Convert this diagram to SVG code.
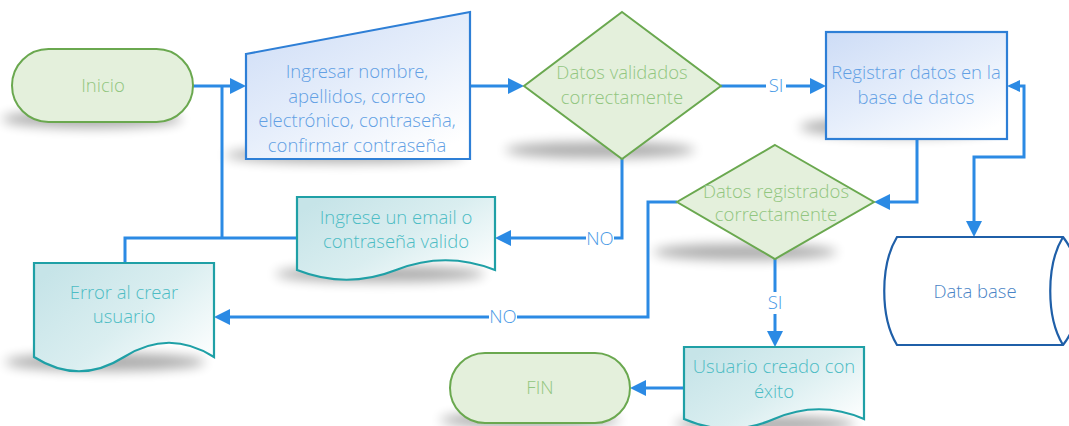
<svg xmlns="http://www.w3.org/2000/svg" width="1069" height="426" viewBox="0 0 1069 426">
  <defs>
    <linearGradient id="gBlue" x1="0" y1="0" x2="0.8" y2="1">
      <stop offset="0" stop-color="#cddcf6"/>
      <stop offset="0.55" stop-color="#e6eefb"/>
      <stop offset="1" stop-color="#ffffff"/>
    </linearGradient>
    <linearGradient id="gTeal" x1="0" y1="0.2" x2="1" y2="0.9">
      <stop offset="0" stop-color="#c6e4e8"/>
      <stop offset="0.5" stop-color="#daeef0"/>
      <stop offset="1" stop-color="#ffffff"/>
    </linearGradient>
    <filter id="soft" x="-30%" y="-200%" width="160%" height="500%">
      <feGaussianBlur stdDeviation="6"/>
    </filter>
    <marker id="arrow" markerUnits="userSpaceOnUse" markerWidth="17" markerHeight="17" refX="0" refY="8" orient="auto">
      <path d="M0,0 L16,8 L0,16 Z" fill="#2b8ae4"/>
    </marker>
    <marker id="arrowSm" markerUnits="userSpaceOnUse" markerWidth="14" markerHeight="13" refX="0" refY="6" orient="auto-start-reverse">
      <path d="M0,0 L13,6 L0,12 Z" fill="#2b8ae4"/>
    </marker>
    <style>
      .shadow { fill: #000; opacity: 0.32; filter: url(#soft); }
      .term, .dec { fill: #e4f0dc; stroke: #6aa84f; stroke-width: 2; }
      .proc { fill: url(#gBlue); stroke: #2e7fd6; stroke-width: 2.2; }
      .doc { fill: url(#gTeal); stroke: #1fa0a6; stroke-width: 2.2; }
      .store { fill: #ffffff; stroke: #1f5fa8; stroke-width: 2.2; }
      text { font-family: "Open Sans Light", "Lato Light", "Open Sans", "Liberation Sans", sans-serif; font-weight: 300; font-size: 18.5px; text-anchor: middle; }
      .tGreen { fill: #92c680; }
      .tBlue { fill: #62a0e4; }
      .tTeal { fill: #4dbcc4; }
      .tStore { fill: #4a84c6; }
      .lbl { fill: #4a9ae6; }
      .conn { fill: none; stroke: #2b8ae4; stroke-width: 3; }
      .lblBg { fill: #ffffff; }
    </style>
  </defs>

  <rect width="1069" height="426" fill="#ffffff"/>

  <!-- soft floor shadows under the shapes -->
  <g id="shadows">
    <ellipse class="shadow" cx="92" cy="119" rx="90" ry="9"/>
    <ellipse class="shadow" cx="345" cy="155" rx="120" ry="8"/>
    <ellipse class="shadow" cx="600" cy="150" rx="95" ry="8"/>
    <ellipse class="shadow" cx="900" cy="127" rx="100" ry="10"/>
    <ellipse class="shadow" cx="745" cy="252" rx="92" ry="8"/>
    <ellipse class="shadow" cx="380" cy="274" rx="105" ry="8"/>
    <ellipse class="shadow" cx="105" cy="362" rx="100" ry="9"/>
    <ellipse class="shadow" cx="530" cy="420" rx="90" ry="8"/>
    <ellipse class="shadow" cx="765" cy="424" rx="90" ry="8"/>
  </g>

  <!-- connectors -->
  <g id="connectors">
    <path class="conn" d="M193,86 H230" marker-end="url(#arrow)"/>
    <path class="conn" d="M222,86 V238"/>
    <path class="conn" d="M297,238 H125 V263"/>
    <path class="conn" d="M470,86 H508" marker-end="url(#arrow)"/>
    <path class="conn" d="M721,86 H810" marker-end="url(#arrow)"/>
    <path class="conn" d="M622,159 V238 H511" marker-end="url(#arrow)"/>
    <path class="conn" d="M917,139 V202 H890" marker-end="url(#arrow)"/>
    <path class="conn" d="M677,202 H648 V317 H230" marker-end="url(#arrow)"/>
    <path class="conn" d="M775,259 V331" marker-end="url(#arrow)"/>
    <path class="conn" d="M684,388 H646" marker-end="url(#arrow)"/>
    <path class="conn" d="M1020,86 H1024 V157 H974 V221" marker-start="url(#arrowSm)" marker-end="url(#arrow)"/>

    <rect class="lblBg" x="766" y="76" width="20" height="20"/>
    <text class="lbl" x="776" y="92">SI</text>
    <rect class="lblBg" x="586" y="229" width="28" height="20"/>
    <text class="lbl" x="600" y="245">NO</text>
    <rect class="lblBg" x="489" y="307" width="28" height="20"/>
    <text class="lbl" x="503" y="323">NO</text>
    <rect class="lblBg" x="765" y="292" width="20" height="22"/>
    <text class="lbl" x="775" y="309">SI</text>
  </g>

  <g id="inicio">
    <rect class="term" x="12" y="49" width="181" height="73" rx="36.5"/>
    <text class="tGreen" x="103" y="92">Inicio</text>
  </g>

  <g id="ingresar-datos">
    <polygon class="proc" points="246,54 470,12 470,159 246,159"/>
    <text class="tBlue" x="357" y="78">Ingresar nombre,</text>
    <text class="tBlue" x="357" y="103">apellidos, correo</text>
    <text class="tBlue" x="357" y="127">electrónico, contraseña,</text>
    <text class="tBlue" x="357" y="152">confirmar contraseña</text>
  </g>

  <g id="datos-validados">
    <polygon class="dec" points="622,12 721,86 622,159 524,86"/>
    <text class="tGreen" x="622" y="79">Datos validados</text>
    <text class="tGreen" x="622" y="104">correctamente</text>
  </g>

  <g id="registrar">
    <rect class="proc" x="826" y="32" width="181" height="107"/>
    <text class="tBlue" x="916" y="79">Registrar datos en la</text>
    <text class="tBlue" x="916" y="104">base de datos</text>
  </g>

  <g id="datos-registrados">
    <polygon class="dec" points="775,145 874,202 775,259 677,202"/>
    <text class="tGreen" x="776" y="198">Datos registrados</text>
    <text class="tGreen" x="776" y="221">correctamente</text>
  </g>

  <g id="ingrese-email">
    <path class="doc" d="M297,270 V197 H495 V270 C462,257 429,257 396,270 C363,283 330,283 297,270 Z"/>
    <text class="tTeal" x="396" y="224">Ingrese un email o</text>
    <text class="tTeal" x="396" y="248">contraseña valido</text>
  </g>

  <g id="error-crear">
    <path class="doc" d="M34,357 V263 H214 V357 C184,338 154,338 124,357 C94,376 64,376 34,357 Z"/>
    <text class="tTeal" x="124" y="299">Error al crear</text>
    <text class="tTeal" x="124" y="323">usuario</text>
  </g>

  <g id="usuario-creado">
    <path class="doc" d="M684,419 V347 H864 V419 C834,406 804,406 774,419 C744,432 714,432 684,419 Z"/>
    <text class="tTeal" x="774" y="373">Usuario creado con</text>
    <text class="tTeal" x="774" y="398">éxito</text>
  </g>

  <g id="fin">
    <rect class="term" x="450" y="353" width="180" height="70" rx="35"/>
    <text class="tGreen" x="540" y="394">FIN</text>
  </g>

  <g id="data-base">
    <path class="store" d="M897,237 H1063 C1085,265 1085,317 1063,345 H897 C880,317 880,265 897,237 Z"/>
    <path class="store" fill="none" d="M1063,237 C1046,265 1046,317 1063,345"/>
    <text class="tStore" x="975" y="298">Data base</text>
  </g>
</svg>
